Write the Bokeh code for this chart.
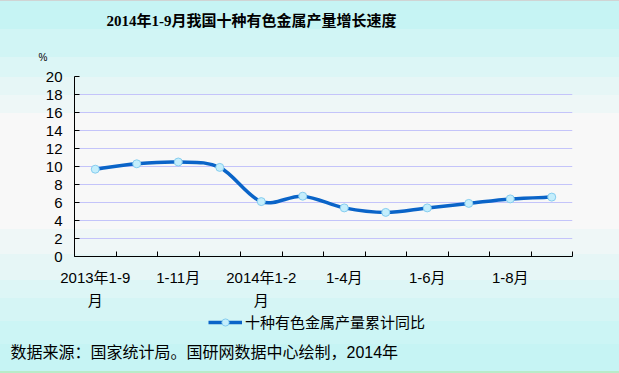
from bokeh.plotting import figure
from bokeh.layouts import column
from bokeh.models import (Range1d, FixedTicker, Legend, LegendItem,
                          ColumnDataSource, Label)
from bokeh.embed import file_html
from bokeh.resources import INLINE

# ---------------- data ----------------
chart_title = "2014年1-9月我国十种有色金属产量增长速度"
periods = ["2013年1-9月", "1-10月", "1-11月", "1-12月", "2014年1-2月", "1-3月",
           "1-4月", "1-5月", "1-6月", "1-7月", "1-8月", "1-9月"]
growth = [9.7, 10.3, 10.5, 9.9, 6.1, 6.7, 5.4, 4.9, 5.4, 5.9, 6.4, 6.6]
shown_labels = {0: "2013年1-9\n月", 2: "1-11月", 4: "2014年1-2\n月",
                6: "1-4月", 8: "1-6月", 10: "1-8月"}
series_name = "十种有色金属产量累计同比"
unit_label = "%"
source_note = "数据来源：国家统计局。国研网数据中心绘制，2014年"
y_ticks = [0, 2, 4, 6, 8, 10, 12, 14, 16, 18, 20]

# ---------------- style ----------------
W = 619
H_TOP, H_MID, H_BOT = 64, 248, 61
LINE_COLOR = "#0a64c8"
MARK_FILL = "#c4eefc"
MARK_LINE = "#86cdef"
GRID_COLOR = "#c4c4fa"
SANS = "Liberation Sans, Noto Sans CJK SC"

bands = [(0, 1, "#d0d4d4"), (1, 29, "#c6f4f4"), (29, 57, "#d1f5f5"),
         (57, 77, "#dcf6f6"), (77, 95, "#e6f6f6"), (95, 113, "#eef7f7"),
         (113, 229, "#f8f8f8"), (229, 254, "#eff7f7"), (254, 280, "#e6f6f6"),
         (280, 298, "#ddf6f6"), (298, 321, "#d5f5f5"), (321, 344, "#ccf5f5"),
         (344, 371, "#c6f4f4"), (371, 373, "#b8ecc8")]


def gradient(offset):
    stops = ", ".join(f"{c} {a - offset}px, {c} {b - offset}px" for a, b, c in bands)
    return f"linear-gradient(to bottom, {stops})"


def plain(fig):
    fig.background_fill_alpha = 0
    fig.border_fill_alpha = 0
    fig.outline_line_color = None


n = len(periods)
xs = [i + 0.5 for i in range(n)]

# ---------- top strip: title and unit ----------
top = figure(width=W, height=H_TOP, x_range=Range1d(0, 1), y_range=Range1d(0, 1),
             output_backend="svg", toolbar_location=None, title=None,
             x_axis_location=None, y_axis_location=None, min_border=0,
             frame_align=False)
plain(top)
top.grid.visible = False
top.styles = {"background": gradient(0)}
top.add_layout(Label(x=106, y=20, x_units="canvas", y_units="canvas",
                     text=chart_title,
                     text_font="Liberation Serif, Noto Sans CJK SC",
                     text_font_style="bold", text_font_size="15px",
                     text_baseline="middle", text_color="black"))
top.add_layout(Label(x=38, y=57, x_units="canvas", y_units="canvas",
                     text=unit_label, text_font=SANS, text_font_size="10px",
                     text_baseline="middle", text_color="black"))

# ---------- main chart ----------
p = figure(width=W, height=H_MID, x_range=Range1d(0, n), y_range=Range1d(0, 20),
           output_backend="svg", toolbar_location=None, title=None,
           min_border_left=74, min_border_right=47, min_border_top=12,
           min_border_bottom=56, frame_align=False)
plain(p)
p.styles = {"background": gradient(H_TOP)}

p.xaxis.ticker = FixedTicker(ticks=[k + 0.5 for k in shown_labels],
                             minor_ticks=list(range(0, n + 1)))
p.xaxis.major_label_overrides = {k + 0.5: v for k, v in shown_labels.items()}
p.xaxis.major_tick_in = 0
p.xaxis.major_tick_out = 0
p.xaxis.minor_tick_in = 5
p.xaxis.minor_tick_out = 0
p.xaxis.minor_tick_line_color = "black"
p.xaxis.major_label_standoff = 12
p.xaxis.major_label_text_line_height = 1.4

p.yaxis.ticker = FixedTicker(ticks=y_ticks)
p.yaxis.major_tick_in = 5
p.yaxis.major_tick_out = 0
p.yaxis.minor_tick_line_color = None
p.yaxis.major_label_standoff = 12

for ax in (p.xaxis, p.yaxis):
    ax.axis_line_color = "black"
    ax.major_tick_line_color = "black"
    ax.major_label_text_font = SANS
    ax.major_label_text_font_size = "15px"
    ax.major_label_text_color = "black"

p.xgrid.grid_line_color = None
p.ygrid.grid_line_color = GRID_COLOR
p.ygrid.ticker = FixedTicker(ticks=y_ticks[1:])

# smooth curve through the points (Bezier segments)
pts = list(zip(xs, growth))
seg = dict(x0=[], y0=[], x1=[], y1=[], cx0=[], cy0=[], cx1=[], cy1=[])
for i in range(n - 1):
    a = pts[i - 1] if i > 0 else pts[i]
    b = pts[i]
    c = pts[i + 1]
    d = pts[i + 2] if i + 2 < n else pts[i + 1]
    seg["x0"].append(b[0]); seg["y0"].append(b[1])
    seg["x1"].append(c[0]); seg["y1"].append(c[1])
    seg["cx0"].append(b[0] + (c[0] - a[0]) / 6)
    seg["cy0"].append(b[1] + (c[1] - a[1]) / 6)
    seg["cx1"].append(c[0] - (d[0] - b[0]) / 6)
    seg["cy1"].append(c[1] - (d[1] - b[1]) / 6)
p.bezier(x0="x0", y0="y0", x1="x1", y1="y1", cx0="cx0", cy0="cy0",
         cx1="cx1", cy1="cy1", source=ColumnDataSource(seg),
         line_color=LINE_COLOR, line_width=3.5)
p.scatter(x=xs, y=growth, size=8, fill_color=MARK_FILL,
          line_color=MARK_LINE, line_width=1)

# ---------- bottom strip: legend and source ----------
# the key renderers use the series, but this strip's y range keeps them out of view
bot = figure(width=W, height=H_BOT, x_range=Range1d(0, n), y_range=Range1d(-2, -1),
             output_backend="svg", toolbar_location=None, title=None,
             x_axis_location=None, y_axis_location=None, min_border=0,
             frame_align=False)
plain(bot)
bot.grid.visible = False
bot.styles = {"background": gradient(H_TOP + H_MID)}
key_line = bot.line(x=xs, y=growth, line_color=LINE_COLOR, line_width=3.5)
key_mark = bot.scatter(x=xs, y=growth, size=8, fill_color=MARK_FILL,
                       line_color=MARK_LINE, line_width=1)
legend = Legend(items=[LegendItem(label=series_name,
                                  renderers=[key_line, key_mark])],
                location=(208, 41), orientation="horizontal",
                background_fill_alpha=0, border_line_alpha=0, padding=0,
                margin=0, glyph_width=34, glyph_height=18, label_standoff=3,
                label_text_font=SANS, label_text_font_size="15px",
                label_text_color="black")
bot.add_layout(legend, "center")
bot.add_layout(Label(x=10, y=40, x_units="canvas", y_units="canvas",
                     text=source_note, text_font=SANS, text_font_size="16px",
                     text_baseline="middle", text_color="black"))

layout = column(top, p, bot, spacing=0)
open("out.html", "w").write(file_html(layout, INLINE))
